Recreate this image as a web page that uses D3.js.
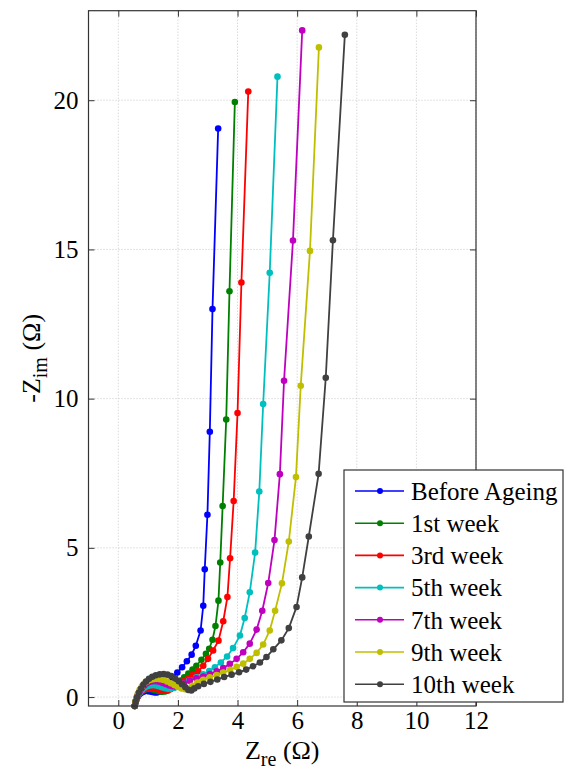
<!DOCTYPE html>
<html>
<head>
<meta charset="utf-8">
<script src="https://cdn.jsdelivr.net/npm/d3@7"></script>
<style>
  body { margin: 0; background: #fff; }
  svg, svg text { font-family: "Liberation Serif", "Times New Roman", Times, serif; }
</style>
</head>
<body>
<svg id="chart" width="568" height="776"></svg>
<script>
// series names (legend order)
const seriesNames = ["Before Ageing", "1st week", "3rd week", "5th week", "7th week", "9th week", "10th week"];
const seriesColors = ["#0000ff", "#008000", "#ff0000", "#00bfbf", "#bf00bf", "#bfbf00", "#404040"];

// Nyquist points [Zre, -Zim]
const beforeAgeing = [[0.55,-0.30],[0.57,-0.20],[0.60,-0.10],[0.64,-0.01],[0.69,0.07],[0.75,0.13],[0.82,0.17],[0.90,0.20],[0.98,0.20],[1.06,0.19],[1.14,0.17],[1.22,0.15],[1.30,0.15],[1.38,0.18],[1.47,0.25],[1.58,0.36],[1.70,0.50],[1.83,0.66],[1.98,0.82],[2.14,1.00],[2.30,1.20],[2.46,1.42],[2.60,1.72],[2.76,2.23],[2.85,3.06],[2.90,4.28],[2.99,6.11],[3.07,8.89],[3.16,13.00],[3.35,19.05]];
const week1 = [[0.55,-0.30],[0.57,-0.19],[0.60,-0.08],[0.64,0.02],[0.70,0.11],[0.77,0.18],[0.85,0.23],[0.94,0.26],[1.03,0.27],[1.12,0.26],[1.21,0.24],[1.30,0.21],[1.39,0.19],[1.48,0.18],[1.57,0.19],[1.66,0.22],[1.76,0.28],[1.86,0.36],[1.97,0.45],[2.09,0.55],[2.21,0.66],[2.35,0.79],[2.49,0.92],[2.62,1.05],[2.79,1.25],[2.94,1.45],[3.05,1.62],[3.16,1.92],[3.26,2.38],[3.36,3.23],[3.42,4.51],[3.50,6.40],[3.62,9.30],[3.73,13.60],[3.91,19.94]];
const week3 = [[0.55,-0.30],[0.57,-0.19],[0.61,-0.07],[0.65,0.03],[0.71,0.12],[0.78,0.19],[0.86,0.25],[0.95,0.29],[1.05,0.31],[1.15,0.30],[1.25,0.28],[1.35,0.25],[1.45,0.22],[1.55,0.21],[1.65,0.22],[1.75,0.26],[1.85,0.31],[1.96,0.38],[2.08,0.45],[2.20,0.53],[2.34,0.63],[2.51,0.75],[2.68,0.86],[2.85,1.05],[3.01,1.28],[3.18,1.56],[3.36,1.89],[3.52,2.54],[3.66,3.35],[3.75,4.65],[3.87,6.57],[4.00,9.52],[4.13,13.89],[4.36,20.29]];
const week5 = [[0.55,-0.30],[0.57,-0.18],[0.61,-0.06],[0.66,0.05],[0.72,0.15],[0.79,0.24],[0.87,0.31],[0.96,0.36],[1.06,0.39],[1.16,0.40],[1.26,0.39],[1.36,0.36],[1.46,0.33],[1.56,0.30],[1.66,0.28],[1.76,0.28],[1.88,0.31],[2.02,0.37],[2.18,0.44],[2.38,0.55],[2.62,0.66],[2.85,0.76],[3.05,0.87],[3.24,1.00],[3.44,1.16],[3.65,1.36],[3.85,1.64],[4.08,2.06],[4.24,2.65],[4.41,3.51],[4.59,4.84],[4.73,6.89],[4.86,9.82],[5.08,14.22],[5.34,20.79]];
const week7 = [[0.55,-0.30],[0.57,-0.17],[0.61,-0.04],[0.66,0.09],[0.72,0.20],[0.79,0.30],[0.87,0.39],[0.96,0.46],[1.06,0.51],[1.16,0.53],[1.27,0.53],[1.38,0.51],[1.49,0.47],[1.60,0.43],[1.71,0.39],[1.82,0.36],[1.93,0.35],[2.05,0.38],[2.20,0.45],[2.40,0.55],[2.62,0.63],[2.85,0.69],[3.07,0.77],[3.30,0.86],[3.52,0.97],[3.74,1.11],[3.97,1.28],[4.19,1.50],[4.41,1.79],[4.64,2.26],[4.83,2.89],[5.03,3.82],[5.24,5.26],[5.42,7.47],[5.56,10.60],[5.86,15.30],[6.17,22.34]];
const week9 = [[0.55,-0.30],[0.57,-0.16],[0.61,-0.02],[0.66,0.12],[0.72,0.25],[0.79,0.36],[0.87,0.45],[0.96,0.52],[1.06,0.57],[1.17,0.60],[1.28,0.61],[1.40,0.60],[1.52,0.57],[1.64,0.52],[1.76,0.46],[1.88,0.40],[2.00,0.34],[2.12,0.29],[2.24,0.26],[2.35,0.27],[2.48,0.38],[2.65,0.49],[2.85,0.58],[3.07,0.66],[3.30,0.74],[3.52,0.82],[3.75,0.91],[3.97,1.01],[4.19,1.12],[4.41,1.28],[4.64,1.48],[4.86,1.76],[5.08,2.23],[5.26,2.89],[5.49,3.81],[5.72,5.21],[5.96,7.37],[6.12,10.43],[6.43,14.95],[6.73,21.77]];
const week10 = [[0.55,-0.30],[0.58,-0.16],[0.63,-0.01],[0.69,0.14],[0.76,0.28],[0.84,0.41],[0.93,0.52],[1.03,0.61],[1.14,0.68],[1.26,0.73],[1.39,0.76],[1.52,0.77],[1.65,0.75],[1.78,0.70],[1.91,0.62],[2.03,0.53],[2.14,0.43],[2.25,0.33],[2.35,0.24],[2.45,0.22],[2.55,0.29],[2.68,0.36],[2.87,0.44],[3.09,0.51],[3.32,0.59],[3.55,0.67],[3.80,0.75],[4.05,0.83],[4.29,0.92],[4.52,1.03],[4.75,1.16],[4.97,1.34],[5.20,1.60],[5.47,1.90],[5.72,2.31],[5.98,3.02],[6.17,4.01],[6.39,5.38],[6.72,7.48],[6.96,10.70],[7.20,15.31],[7.60,22.19]];

const seriesData = [beforeAgeing, week1, week3, week5, week7, week9, week10];

const xTicks = [0, 2, 4, 6, 8, 10, 12];
const yTicks = [0, 5, 10, 15, 20];

const svg = d3.select("#chart"),
      margin = {top: 10.7, right: 92, bottom: 70, left: 88.5},
      width = 568 - margin.left - margin.right,
      height = 776 - margin.top - margin.bottom;

const g = svg.append("g").attr("transform", `translate(${margin.left},${margin.top})`);

const x = d3.scaleLinear().domain([-1, 12]).range([0, width]);
const y = d3.scaleLinear().domain([-0.3, 23]).range([height, 0]);

// grid
g.append("g").selectAll("line").data(xTicks).enter().append("line")
  .attr("x1", d => x(d)).attr("x2", d => x(d)).attr("y1", 0).attr("y2", height)
  .attr("stroke", "#c8c8c8").attr("stroke-width", 1).attr("stroke-dasharray", "1,2");
g.append("g").selectAll("line").data(yTicks).enter().append("line")
  .attr("y1", d => y(d)).attr("y2", d => y(d)).attr("x1", 0).attr("x2", width)
  .attr("stroke", "#c8c8c8").attr("stroke-width", 1).attr("stroke-dasharray", "1,2");

// series
const line = d3.line().x(d => x(d[0])).y(d => y(d[1]));
seriesData.forEach((pts, i) => {
  g.append("path").datum(pts)
    .attr("d", line).attr("fill", "none")
    .attr("stroke", seriesColors[i]).attr("stroke-width", 1.8);
  g.append("g").selectAll("circle").data(pts).enter().append("circle")
    .attr("cx", d => x(d[0])).attr("cy", d => y(d[1])).attr("r", 3.3)
    .attr("fill", seriesColors[i]);
});

// axes (ticks inward on all sides)
const axisColor = "#333";
const styleAxis = sel => {
  sel.attr("font-family", null).attr("font-size", null);
  sel.selectAll("path.domain").remove();
  sel.selectAll("line").attr("stroke", axisColor);
  sel.selectAll("text").style("font-size", "25px")
    .style("font-family", '"Liberation Serif", "Times New Roman", Times, serif').attr("fill", "#000");
};
g.append("g").attr("transform", `translate(0,${height})`)
  .call(d3.axisBottom(x).tickValues(xTicks).tickSizeInner(-6).tickSizeOuter(0).tickPadding(5))
  .call(styleAxis);
g.append("g")
  .call(d3.axisTop(x).tickValues(xTicks).tickSizeInner(-6).tickSizeOuter(0).tickFormat(""))
  .call(styleAxis);
g.append("g")
  .call(d3.axisLeft(y).tickValues(yTicks).tickSizeInner(-6).tickSizeOuter(0).tickPadding(10))
  .call(styleAxis);
g.append("g").attr("transform", `translate(${width},0)`)
  .call(d3.axisRight(y).tickValues(yTicks).tickSizeInner(-6).tickSizeOuter(0).tickFormat(""))
  .call(styleAxis);

g.append("rect").attr("width", width).attr("height", height)
  .attr("fill", "none").attr("stroke", axisColor).attr("stroke-width", 1.2);

// axis labels
const xl = svg.append("text")
  .attr("x", margin.left + width / 2).attr("y", 759)
  .attr("text-anchor", "middle").style("font-size", "26px");
xl.append("tspan").text("Z");
xl.append("tspan").attr("dy", 7).style("font-size", "20px").text("re");
xl.append("tspan").attr("dy", -7).text(" (Ω)");

const yl = svg.append("text")
  .attr("transform", `translate(40,${margin.top + height / 2}) rotate(-90)`)
  .attr("text-anchor", "middle").style("font-size", "26px");
yl.append("tspan").text("-Z");
yl.append("tspan").attr("dy", 7).style("font-size", "20px").text("im");
yl.append("tspan").attr("dy", -7).text(" (Ω)");

// legend
const leg = svg.append("g").attr("transform", "translate(344,470)");
leg.append("rect").attr("width", 219).attr("height", 232)
  .attr("fill", "#fff").attr("stroke", axisColor).attr("stroke-width", 1.2);
const items = leg.selectAll("g.item").data(seriesNames).enter().append("g")
  .attr("class", "item")
  .attr("transform", (d, i) => `translate(0,${21 + i * 32.2})`);
items.append("line").attr("x1", 11).attr("x2", 60)
  .attr("stroke", (d, i) => seriesColors[i]).attr("stroke-width", 1.6);
items.append("circle").attr("cx", 36).attr("r", 3).attr("fill", (d, i) => seriesColors[i]);
items.append("text").attr("x", 67).attr("dy", "0.35em")
  .style("font-size", "25px").text(d => d);
</script>
</body>
</html>
